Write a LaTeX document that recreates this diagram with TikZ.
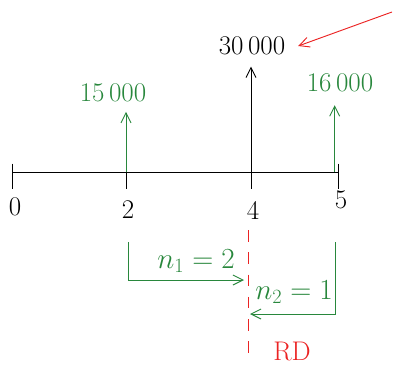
\documentclass[tikz,border=0pt]{standalone}
\usepackage{tikz}
\usetikzlibrary{arrows.meta, positioning}
\definecolor{cfgreen}{RGB}{40,135,60}
\definecolor{cfred}{RGB}{235,35,35}

\begin{document}
\begin{tikzpicture}[x=0.03cm, y=-0.03cm,
      lbl/.style={font=\fontsize{23}{27}\selectfont, inner sep=1pt},
      flow/.style={-{Straight Barb[length=3mm, width=3mm]}, thick},
      axis/.style={thick, black}]
    \useasboundingbox (0,0) rectangle (395,367);
    % time axis with ticks
    \coordinate (t0) at (12,172);
    \coordinate (t2) at (126,172);
    \coordinate (t4) at (251,172);
    \coordinate (t5) at (338,172);
    \draw[axis] (t0) -- (t5);
    \foreach \t in {t0,t2,t4,t5}
      \draw[axis] ([yshift=0.25cm]\t) -- ([yshift=-0.5cm]\t);
    \node[lbl] (n0) at (15,207) {0};
    \node[lbl] (n2) at (128,210) {2};
    \node[lbl] (n4) at (253,210) {4};
    \node[lbl] (n5) at (341,200) {5};
    % cash flows
    \node[lbl, cfgreen] (v15) at (113,93) {15\,000};
    \node[lbl] (v30) at (252,46) {30\,000};
    \node[lbl, cfgreen] (v16) at (340,83) {16\,000};
    \draw[flow, cfgreen] (t2) -- ([yshift=-0.25cm]t2 |- v15.south);
    \draw[flow] (t4) -- ([yshift=-0.3cm]t4 |- v30.south);
    \draw[flow, cfgreen] ([xshift=-0.1cm]t5) -- ([xshift=-0.1cm, yshift=-0.35cm]t5 |- v16.south);
    \coordinate (rs) at (392,12);
    \draw[flow, cfred] (rs) -- ([xshift=0.35cm]v30.east);
    % reference date
    \coordinate (rdtop) at (248,230);
    \coordinate (rdbot) at (248,358);
    \draw[cfred, thick, dashed, dash pattern=on 10pt off 9pt] (rdtop) -- (rdbot);
    \node[lbl, cfred] (rd) at (292,352) {RD};
    % periods
    \coordinate (b1) at (128,242);
    \coordinate (b1e) at (244,280);
    \draw[flow, cfgreen] (b1) |- (b1e);
    \node[lbl, cfgreen] (p1) at (196,261) {$n_1=2$};
    \coordinate (b2) at (335,242);
    \coordinate (b2e) at (250,314);
    \draw[flow, cfgreen] (b2) |- (b2e);
    \node[lbl, cfgreen] (p2) at (294,292) {$n_2=1$};
\end{tikzpicture}
\end{document}
